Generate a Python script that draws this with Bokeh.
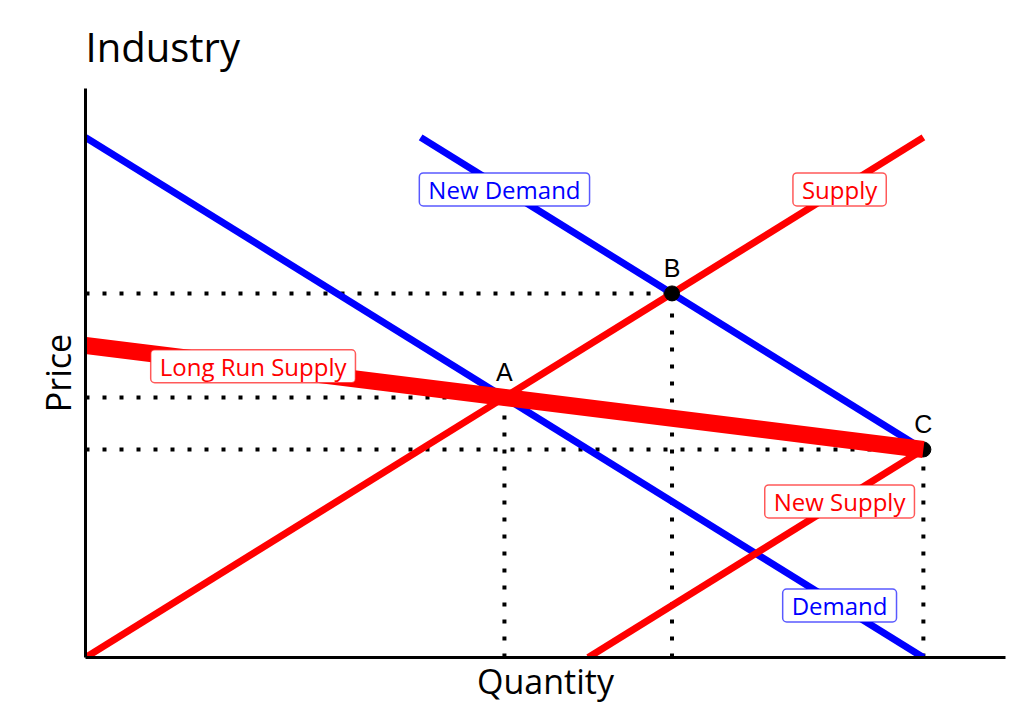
from bokeh.plotting import figure
from bokeh.models import Range1d, FixedTicker
from bokeh.core.properties import value
from bokeh.embed import file_html
from bokeh.resources import INLINE

# ---- data ----
demand_x = [0, 10]
demand_y = [10, 0]
new_demand_x = [4, 10]
new_demand_y = [10, 4]
supply_x = [0, 10]
supply_y = [0, 10]
new_supply_x = [6, 10]
new_supply_y = [0, 4]
lrs_x = [0, 10]
lrs_y = [6, 4]

point_names = ["A", "B", "C"]
point_x = [5, 7, 10]
point_y = [5, 7, 4]

label_text = ["New Demand", "Supply", "Long Run Supply", "New Supply", "Demand"]
label_x = [5, 9, 2, 9, 9]
label_y = [9, 9, 5.6, 3, 1]
label_color = ["#0000FF", "#FF0000", "#FF0000", "#FF0000", "#0000FF"]

BLUE = "#0000FF"
RED = "#FF0000"

p = figure(width=1020, height=712,
           x_range=Range1d(0, 10.98), y_range=Range1d(0, 10.94),
           output_backend="svg", toolbar_location=None,
           min_border_left=85, min_border_right=15,
           min_border_top=88, min_border_bottom=55,
           title="Industry")

p.title.text_font = "Open Sans"
p.title.text_font_size = "40px"
p.title.text_font_style = "normal"
p.title.text_color = "black"
p.title.standoff = 29
p.title.offset = 0

p.grid.visible = False
p.outline_line_color = None

for ax in (p.xaxis, p.yaxis):
    ax.ticker = FixedTicker(ticks=[])
    ax.major_tick_line_color = None
    ax.minor_tick_line_color = None
    ax.axis_line_width = 3
    ax.axis_line_color = "black"
    ax.axis_label_text_font = "Open Sans"
    ax.axis_label_text_font_size = "34px"
    ax.axis_label_text_font_style = "normal"
    ax.axis_label_text_color = "black"
p.xaxis.axis_label = "Quantity"
p.yaxis.axis_label = "Price"
p.xaxis.axis_label_standoff = 0
p.yaxis.axis_label_standoff = 5

# dotted guide lines
zeros = [0 for _ in point_x]
p.segment(x0=zeros, y0=point_y, x1=point_x, y1=point_y,
          line_color="black", line_width=4, line_dash="4 13")
p.segment(x0=point_x, y0=zeros, x1=point_x, y1=point_y,
          line_color="black", line_width=4, line_dash="4 13")

# curves
p.line(demand_x, demand_y, line_color=BLUE, line_width=7)
p.line(supply_x, supply_y, line_color=RED, line_width=7)
p.line(new_supply_x, new_supply_y, line_color=RED, line_width=7)
p.line(new_demand_x, new_demand_y, line_color=BLUE, line_width=7)

# equilibrium points
p.scatter(point_x, point_y, size=15, fill_color="black", line_color="black")

# long run supply
p.line(lrs_x, lrs_y, line_color=RED, line_width=17)

# point letters
p.text(point_x, point_y, text=point_names, text_align="center",
       text_baseline="alphabetic", y_offset=-25,
       text_font=value("Liberation Sans"), text_font_size="25px",
       text_color="black")

# boxed labels
p.text(label_x, label_y, text=label_text, text_align="center",
       text_baseline="middle", text_font=value("Open Sans"),
       text_font_size="24px", text_color=label_color,
       background_fill_color="white",
       border_line_color=label_color, border_line_alpha=0.65,
       border_line_width=1.5,
       padding=dict(left=9, right=9, top=0, bottom=0),
       border_radius=4)

open("out.html", "w").write(file_html(p, INLINE))
